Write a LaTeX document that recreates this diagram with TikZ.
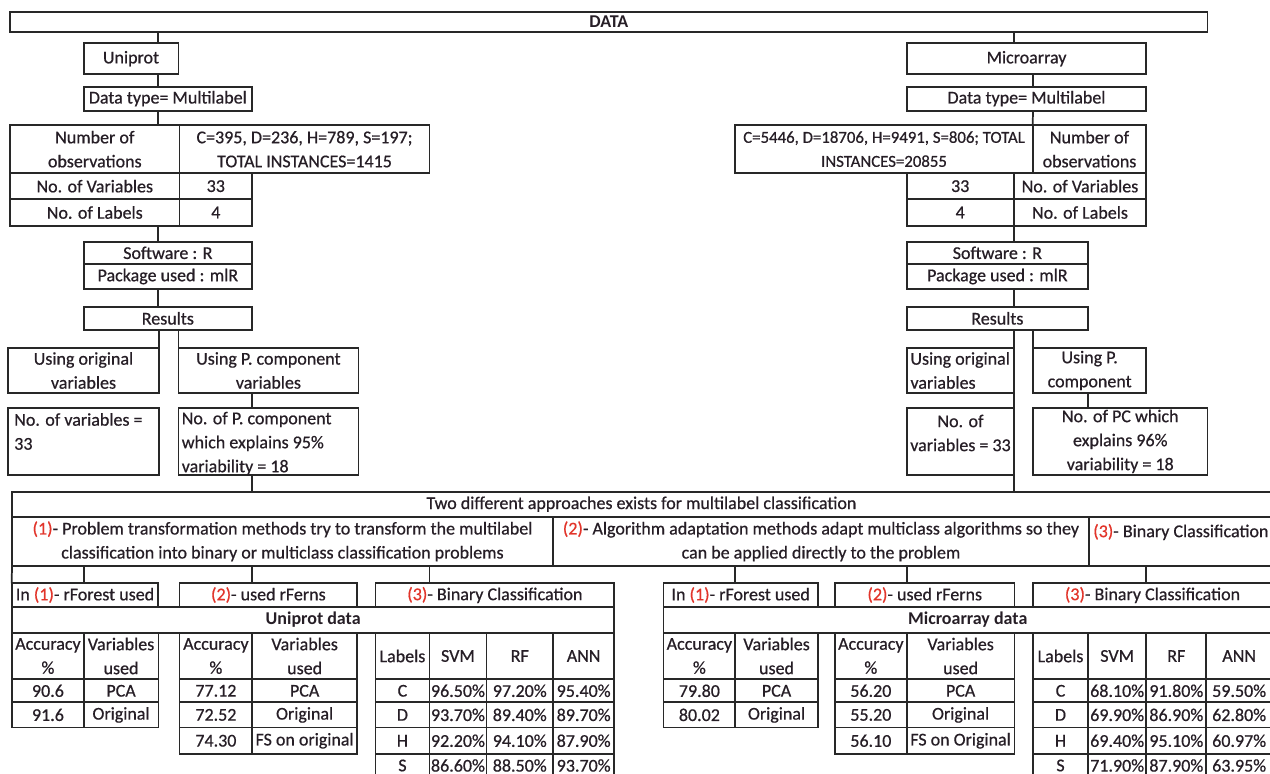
\documentclass[tikz,border=0pt]{standalone}
\usepackage{fontspec}
\setmainfont{Carlito}[UprightFeatures={FakeBold=0.6}]
\usetikzlibrary{calc}
\definecolor{ink}{RGB}{38,30,38}
\definecolor{edge}{RGB}{40,40,40}
\definecolor{redn}{RGB}{226,52,42}
\newcommand\rd[1]{\textcolor{redn}{#1}}
\newcommand\bx[7][]{%
  \pgfmathsetmacro\bxw{(#5-#3)*0.75}%
  \pgfmathsetmacro\bxh{(#6-#4)*0.75}%
  \node[cellbox,minimum width=\bxw pt,minimum height=\bxh pt,#1] (#2) at ({(#3+#5)/2},{(#4+#6)/2}) {#7};}
\begin{document}
\begin{tikzpicture}[x=0.75pt,y=-0.75pt,
  cellbox/.style={draw=edge,line width=1.3pt,inner sep=0pt,outer sep=0pt,
    font=\fontsize{13.5}{18}\selectfont,text=ink,align=center},
  boldtxt/.style={font=\fontsize{13.5}{18}\selectfont\bfseries},
  txt/.style={inner sep=0pt,font=\fontsize{13.5}{18}\selectfont,text=ink,align=left},
  link/.style={draw=edge,line width=1.3pt}]
\clip (0,0) rectangle (1270,774);
\fill[white] (0,0) rectangle (1270,774);
% ---------- top
\bx[boldtxt]{data}{10}{11.7}{1207.5}{31.7}{DATA}
% left column
\bx{uni}{83.7}{43.3}{178.4}{74}{Uniprot}
\bx{dtL}{83.7}{86.7}{252}{110.7}{Data type= Multilabel}
\bx{obsLa}{10}{125}{179.6}{173.3}{Number of\\observations}
\bx{obsLb}{179.6}{125}{429.4}{173.3}{C=395, D=236, H=789, S=197;\\TOTAL INSTANCES=1415}
\bx{varLa}{10}{173.3}{179.6}{199}{No. of Variables}
\bx{varLb}{179.6}{173.3}{252}{199}{33}
\bx{labLa}{10}{199}{179.6}{226}{No. of Labels}
\bx{labLb}{179.6}{199}{252}{226}{4}
\bx{swL}{83.7}{241.7}{252}{264}{Software : R}
\bx{pkL}{83.7}{264}{252}{289}{Package used : mlR}
\bx{resL}{83.7}{306.7}{252}{330}{Results}
\bx{origL}{8}{348.3}{159}{392.7}{Using original\\variables}
\bx{pcL}{178.4}{348.3}{358.4}{392.7}{Using P. component\\variables}
\bx{nvL}{8}{407.7}{159}{475}{}
\node[txt,anchor=west] (nvLt) at (14,431.5) {No. of variables =\\33};
\bx{npL}{178.4}{407.7}{358.4}{475}{}
\node[txt,anchor=west] (npLt) at (181.5,443.5) {No. of P. component\\which explains 95\%\\variability = 18};
% right column
\bx{mic}{906.7}{43.3}{1146.3}{74}{Microarray}
\bx{dtR}{906.7}{86.7}{1146.3}{110.7}{Data type= Multilabel}
\bx[font=\fontsize{12.6}{18}\selectfont]{obsRa}{735.3}{125}{1032.7}{173.3}{C=5446, D=18706, H=9491, S=806; TOTAL\\INSTANCES=20855}
\bx{obsRb}{1032.7}{125}{1146.3}{173.3}{Number of\\observations}
\bx{varRa}{906.7}{173.3}{1013.7}{199}{33}
\bx{varRb}{1013.7}{173.3}{1146.3}{199}{No. of Variables}
\bx{labRa}{906.7}{199}{1013.7}{226}{4}
\bx{labRb}{1013.7}{199}{1146.3}{226}{No. of Labels}
\bx{swR}{906.7}{241.7}{1088}{264}{Software : R}
\bx{pkR}{906.7}{264}{1088}{289}{Package used : mlR}
\bx{resR}{906.7}{306.7}{1088}{330}{Results}
\bx[align=left]{origR}{906.7}{348.3}{1013.7}{392.7}{Using original\\variables}
\bx{pcR}{1033}{348.3}{1146.3}{392.7}{Using P.\\component}
\bx{nvR}{906.7}{407.7}{1013.7}{475}{}
\node[txt,align=center] (nvRt) at (960.5,433) {No. of\\variables = 33};
\bx{npR}{1033}{407.7}{1207.5}{475}{No. of PC which\\explains 96\%\\variability = 18}
% ---------- approaches
\bx{bigT}{12}{491.7}{1271}{516.7}{Two different approaches exists for multilabel classification}
\bx{apA}{12}{516.7}{553}{566}{\rd{(1)}- Problem transformation methods try to transform the multilabel\\classification into binary or multiclass classification problems}
\bx{apB}{553}{516.7}{1089}{566}{\rd{(2)}- Algorithm adaptation methods adapt multiclass algorithms so they\\can be applied directly to the problem}
\bx{apC}{1089}{516.7}{1271}{566}{}
\node[txt,anchor=west] (apCt) at (1093,532) {\rd{(3)}- Binary Classification};
% method boxes
\bx{mAL}{11.7}{583.3}{158.3}{606.7}{In \rd{(1)}- rForest used}
\bx{mBL}{179.6}{583.3}{357.1}{606.7}{\rd{(2)}- used rFerns}
\bx{mCL}{375.5}{583.3}{614.3}{606.7}{\rd{(3)}- Binary Classification}
\bx[boldtxt]{udata}{12}{606.7}{614.3}{632.7}{Uniprot data}
\bx{mAR}{663.5}{583.3}{817.8}{606.7}{In \rd{(1)}- rForest used}
\bx{mBR}{835}{583.3}{1014.5}{606.7}{\rd{(2)}- used rFerns}
\bx{mCR}{1033}{583.3}{1272}{606.7}{\rd{(3)}- Binary Classification}
\bx[boldtxt]{mdata}{663.5}{606.7}{1272}{632.7}{Microarray data}
% ---------- tables, left
\bx{aLh1}{12.2}{632.7}{83.7}{679.3}{Accuracy\\\%}
\bx{aLh2}{83.7}{632.7}{158.4}{679.3}{Variables\\used}
\foreach \r/\ya/\yb/\p/\q in {1/679.3/702.3/90.6/PCA, 2/702.3/727.5/91.6/Original}{
  \bx{aL\r a}{12.2}{\ya}{83.7}{\yb}{\p}
  \bx{aL\r b}{83.7}{\ya}{158.4}{\yb}{\q}}
\bx{bLh1}{179.6}{632.7}{252.2}{679.3}{Accuracy\\\%}
\bx{bLh2}{252.2}{632.7}{357.1}{679.3}{Variables\\used}
\foreach \r/\ya/\yb/\p/\q in {1/679.3/702.3/77.12/PCA, 2/702.3/727.5/72.52/Original, 3/727.5/754/74.30/FS on original}{
  \bx{bL\r a}{179.6}{\ya}{252.2}{\yb}{\p}
  \bx{bL\r b}{252.2}{\ya}{357.1}{\yb}{\q}}
\foreach \r/\ya/\yb/\p/\q/\s/\t in {0/632.7/679.3/Labels/SVM/RF/ANN,
  1/679.3/702.3/C/96.50\%/97.20\%/95.40\%, 2/702.3/727.5/D/93.70\%/89.40\%/89.70\%,
  3/727.5/754/H/92.20\%/94.10\%/87.90\%, 4/754/777/S/86.60\%/88.50\%/93.70\%}{
  \bx{cL\r a}{375.5}{\ya}{429.4}{\yb}{\p}
  \bx{cL\r b}{429.4}{\ya}{486.5}{\yb}{\q}
  \bx{cL\r c}{486.5}{\ya}{553}{\yb}{\s}
  \bx{cL\r d}{553}{\ya}{614.3}{\yb}{\t}}
% ---------- tables, right
\bx{aRh1}{663.5}{632.7}{735.3}{679.3}{Accuracy\\\%}
\bx{aRh2}{735.3}{632.7}{817.8}{679.3}{Variables\\used}
\foreach \r/\ya/\yb/\p/\q in {1/679.3/702.3/79.80/PCA, 2/702.3/727.5/80.02/Original}{
  \bx{aR\r a}{663.5}{\ya}{735.3}{\yb}{\p}
  \bx{aR\r b}{735.3}{\ya}{817.8}{\yb}{\q}}
\bx{bRh1}{835}{632.7}{906.7}{679.3}{Accuracy\\\%}
\bx{bRh2}{906.7}{632.7}{1014.5}{679.3}{Variables\\used}
\foreach \r/\ya/\yb/\p/\q in {1/679.3/702.3/56.20/PCA, 2/702.3/727.5/55.20/Original, 3/727.5/754/56.10/FS on Original}{
  \bx{bR\r a}{835}{\ya}{906.7}{\yb}{\p}
  \bx{bR\r b}{906.7}{\ya}{1014.5}{\yb}{\q}}
\foreach \r/\ya/\yb/\p/\q/\s/\t in {0/632.7/679.3/Labels/SVM/RF/ANN,
  1/679.3/702.3/C/68.10\%/91.80\%/59.50\%, 2/702.3/727.5/D/69.90\%/86.90\%/62.80\%,
  3/727.5/754/H/69.40\%/95.10\%/60.97\%, 4/754/777/S/71.90\%/87.90\%/63.95\%}{
  \bx{cR\r a}{1033}{\ya}{1088}{\yb}{\p}
  \bx{cR\r b}{1088}{\ya}{1146.3}{\yb}{\q}
  \bx{cR\r c}{1146.3}{\ya}{1206.3}{\yb}{\s}
  \bx{cR\r d}{1206.3}{\ya}{1272}{\yb}{\t}}
% ---------- connectors
\coordinate (xa) at (158,0);
\coordinate (xb) at (252,0);
\coordinate (xc) at (1013.7,0);
\coordinate (xd) at (1033,0);
\coordinate (xe) at (1088,0);
\draw[link] (data.south -| xa) -- (uni.north -| xa);
\draw[link] (uni.south -| xa) -- (dtL.north -| xa);
\draw[link] (dtL.south -| xa) -- (obsLa.north -| xa);
\draw[link] (labLa.south -| xa) -- (swL.north -| xa);
\draw[link] (pkL.south -| xa) -- (resL.north -| xa);
\draw[link] (resL.south -| origL.east) -- (origL.north east);
\draw[link] (resL.south -| pcL.west) -- (pcL.north west);
\draw[link] (pcL.south -| xb) -- (npL.north -| xb);
\draw[link] (npL.south -| xb) -- (bigT.north -| xb);
\draw[link] (data.south -| xc) -- (mic.north -| xc);
\draw[link] (mic.south -| xd) -- (dtR.north -| xd);
\draw[link] (dtR.south -| xd) -- (obsRb.north west);
\draw[link] (labRa.south east) -- (swR.north -| labRa.east);
\draw[link] (pkR.south -| xc) -- (resR.north -| xc);
\draw[link] (resR.south -| xc) -- (bigT.north -| xc);
\draw[link] (resR.south -| pcR.west) -- (pcR.north west);
\draw[link] (pcR.south -| xe) -- (npR.north -| xe);
\draw[link] (apA.south west) -- (mAL.north west);
\foreach \n/\src/\x in {mAL/apA/83.7, mBL/apA/252, mCL/apA/429.4, mAR/apB/735.3, mBR/apB/906.7, mCR/apC/1146.3}{
  \coordinate (tk) at (\x,0);
  \draw[link] (\src.south -| tk) -- (\n.north -| tk);}
\end{tikzpicture}
\end{document}
